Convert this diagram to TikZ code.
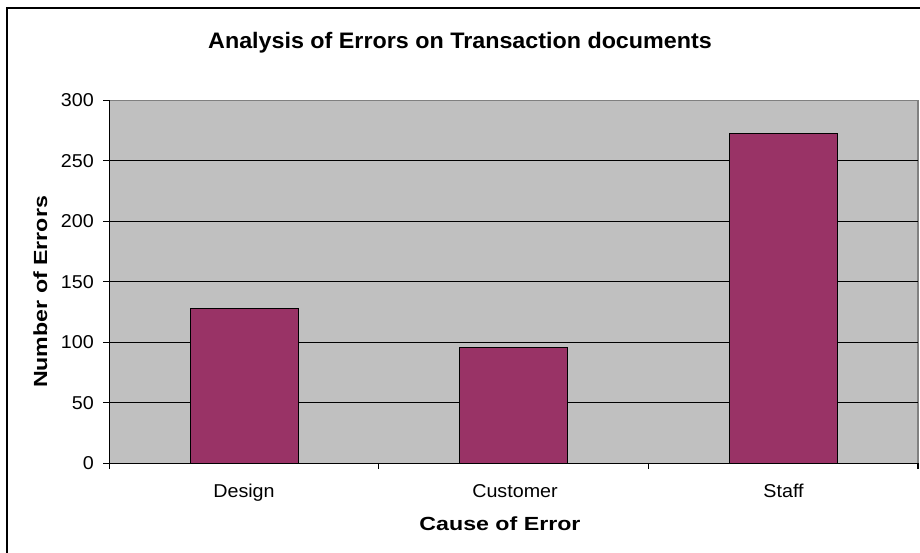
\documentclass[tikz,border=0pt]{standalone}
\usepackage{fontspec}
\setmainfont{Liberation Sans}
\newfontfamily\ticksfont[FakeStretch=1.06]{Liberation Sans}
\newfontfamily\axtitlefont[FakeStretch=1.22]{Liberation Sans Bold}
\newfontfamily\titlefont[FakeStretch=1.04]{Liberation Sans Bold}
\definecolor{plotgray}{HTML}{C0C0C0}
\definecolor{bordergray}{HTML}{808080}
\definecolor{barplum}{HTML}{993366}
\begin{document}
\begin{tikzpicture}[x=1pt,y=-1pt,
  bar/.style={draw=black, line width=1pt, fill=barplum},
  grid/.style={draw=black, line width=1pt},
  axisline/.style={draw=black, line width=1.2pt},
  ticklab/.style={font=\fontsize{18.6}{22}\ticksfont, inner sep=0pt},
  axtitle/.style={font=\fontsize{19}{22}\axtitlefont, inner sep=0pt},
  charttitle/.style={font=\fontsize{22.4}{26}\titlefont, inner sep=0pt}]
\useasboundingbox (0,0) rectangle (920,552);
\fill[white] (0,0) rectangle (920,552);
\begin{scope}
\clip (0,0) rectangle (920,552);
\draw[line width=2pt] (7,8) rectangle (950,580);
\end{scope}
% plot area
\fill[plotgray] (109.3,100.3) rectangle (918,463.3);
\draw[bordergray, line width=1.2pt] (109.3,100.3) -- (918,100.3) -- (918,463.3);
% gridlines
\foreach \yy in {160.8,221.3,281.8,342.3,402.8}
  \draw[grid] (109.3,\yy) -- (918,\yy);
% bars
\draw[bar] (190.2,463.3) rectangle (298.1,308.4);
\draw[bar] (459.9,463.3) rectangle (567.8,347.1);
\draw[bar] (729.5,463.3) rectangle (837.4,133.0);
% axes
\draw[axisline] (109.3,100.3) -- (109.3,469);
\draw[axisline] (103,463.3) -- (918,463.3);
\foreach \yy in {100.3,160.8,221.3,281.8,342.3,402.8}
  \draw[axisline] (103,\yy) -- (109.3,\yy);
\foreach \xx in {378.6,648.3,918}
  \draw[axisline] (\xx,463.3) -- (\xx,469);
% y tick labels
\node[ticklab, anchor=east] (y0) at (94,463.3) {0};
\node[ticklab, anchor=east] (y50) at (94,402.8) {50};
\node[ticklab, anchor=east] (y100) at (94,342.3) {100};
\node[ticklab, anchor=east] (y150) at (94,281.8) {150};
\node[ticklab, anchor=east] (y200) at (94,221.3) {200};
\node[ticklab, anchor=east] (y250) at (94,160.8) {250};
\node[ticklab, anchor=east] (y300) at (94,100.3) {300};
% category labels
\node[ticklab, anchor=base] (cdesign) at (244,497) {Design};
\node[ticklab, anchor=base] (ccustomer) at (515,497) {Customer};
\node[ticklab, anchor=base] (cstaff) at (783.5,497) {Staff};
% titles
\node[charttitle, anchor=base] (title) at (460,48.3) {Analysis of Errors on Transaction documents};
\node[axtitle, anchor=base] (xtitle) at (500,530) {Cause of Error};
\node[axtitle, anchor=base, rotate=90] (ytitle) at (47,292) {Number of Errors};
\end{tikzpicture}
\end{document}
